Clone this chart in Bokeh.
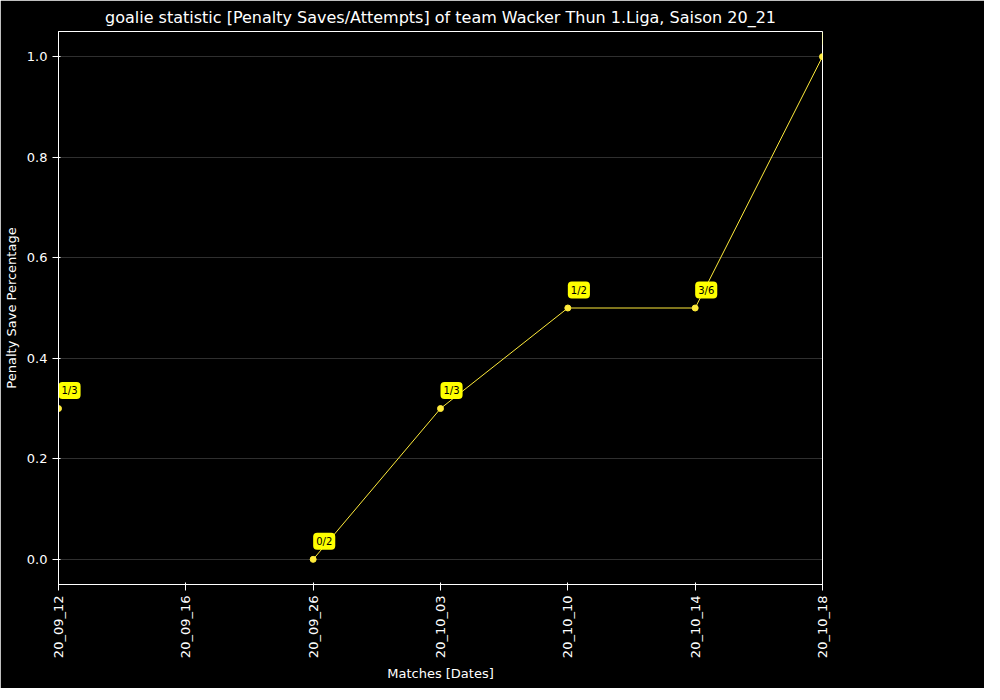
from bokeh.plotting import figure
from bokeh.models import ColumnDataSource, FixedTicker, Legend, LegendItem, Range1d
from bokeh.core.properties import value
from bokeh.embed import file_html
from bokeh.resources import INLINE
from math import pi

dates = ["20_09_12", "20_09_16", "20_09_26", "20_10_03", "20_10_10", "20_10_14", "20_10_18"]
save_pct = [0.3, float("nan"), 0.0, 0.3, 0.5, 0.5, 1.0]
labels = ["1/3", "", "0/2", "1/3", "1/2", "3/6", "1/1"]

xs = list(range(len(dates)))
src = ColumnDataSource(data={"x": xs, "y": save_pct, "lab": labels})
ok = [i for i, v in enumerate(save_pct) if v == v]
lab_src = ColumnDataSource(data={"x": [xs[i] for i in ok], "y": [save_pct[i] for i in ok],
                                 "lab": [labels[i] for i in ok]})

p = figure(frame_width=764, frame_height=553, output_backend="svg", toolbar_location=None,
           x_range=Range1d(0, 6), y_range=Range1d(-0.05, 1.05),
           title="goalie statistic [Penalty Saves/Attempts] of team Wacker Thun 1.Liga, Saison 20_21",
           x_axis_label="Matches [Dates]", y_axis_label="Penalty Save Percentage",
           min_border_left=58, min_border_top=27, min_border_bottom=104, min_border_right=162)
p.background_fill_color = "black"
p.border_fill_color = "black"
p.outline_line_color = "white"
p.title.text_color = "white"
p.title.align = "center"
p.title.text_font = "DejaVu Sans"
p.title.text_font_size = "16px"
p.title.text_font_style = "normal"

for ax in p.axis:
    ax.axis_line_color = "white"
    ax.major_tick_line_color = "white"
    ax.minor_tick_line_color = None
    ax.major_label_text_color = "white"
    ax.major_label_text_font = "DejaVu Sans"
    ax.major_label_text_font_size = "13px"
    ax.axis_label_text_color = "white"
    ax.axis_label_text_font = "DejaVu Sans"
    ax.axis_label_text_font_size = "13px"
    ax.axis_label_text_font_style = "normal"

p.xaxis.ticker = FixedTicker(ticks=xs)
p.xaxis.major_label_overrides = {i: d for i, d in enumerate(dates)}
p.xaxis.major_label_orientation = pi / 2
p.yaxis.ticker = FixedTicker(ticks=[0.0, 0.2, 0.4, 0.6, 0.8, 1.0])
p.yaxis.major_label_overrides = {0: "0.0", 0.2: "0.2", 0.4: "0.4", 0.6: "0.6", 0.8: "0.8", 1: "1.0"}
p.xgrid.grid_line_color = None
p.ygrid.grid_line_color = "#888888"
p.ygrid.grid_line_dash = "1 1"
p.ygrid.grid_line_width = 0.7

ln = p.line("x", "y", source=src, line_color="#ffeb3b", line_width=1)
sc = p.scatter("x", "y", source=lab_src, size=6, fill_color="#ffeb3b", line_color="#ffeb3b")
p.text("x", "y", text="lab", source=lab_src, x_offset=0, y_offset=-18,
       text_font=value("DejaVu Sans"), text_font_size="10px", text_color="black",
       text_baseline="middle", background_fill_color="yellow",
       border_radius=4, padding=3)

legend = Legend(items=[LegendItem(label="Gobeli Sven", renderers=[ln, sc])],
                title="Player Name", location=(808, 505))
legend.background_fill_color = "black"
legend.border_line_color = "white"
legend.label_text_color = "white"
legend.label_text_font_size = "11px"
legend.title_text_color = "white"
legend.title_text_font_size = "13px"
legend.title_text_font_style = "normal"
legend.glyph_width = 25
legend.glyph_height = 14
legend.spacing = 0
legend.padding = 4
legend.margin = 0
p.add_layout(legend, "center")

open("out.html", "w").write(file_html(p, INLINE))
